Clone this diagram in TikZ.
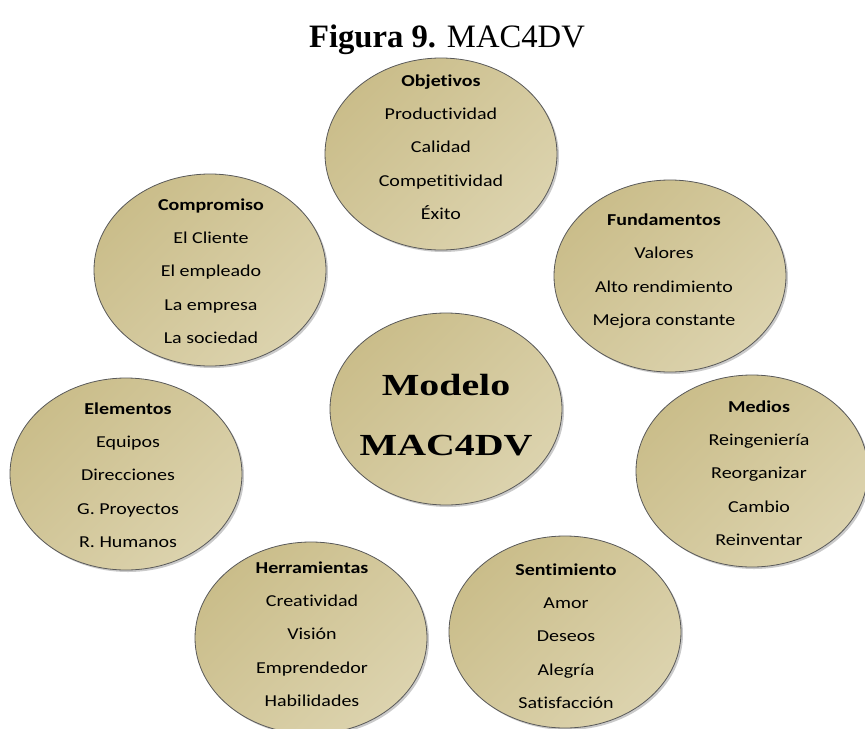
\documentclass[tikz,border=0pt]{standalone}
\usepackage{fontspec}
\setmainfont{Liberation Serif}
\newfontfamily\burfont[FakeStretch=1.2, Ligatures=NoCommon]{Carlito}
\newfontfamily\modfont[FakeStretch=1.3]{Liberation Serif}
\usetikzlibrary{shapes,shadows}
\definecolor{arena}{RGB}{202,189,138}
\definecolor{arenaclara}{RGB}{220,211,174}
\tikzstyle{burbuja} = [ellipse, draw=black!65, line width=0.6pt, top color=arena, bottom color=arenaclara, shading angle=45, minimum width=174pt, minimum height=144pt, drop shadow={shadow xshift=1.5pt, shadow yshift=-1.5pt, opacity=0.35, fill=black!60}]
\tikzstyle{lista} = [align=center, inner sep=0pt, font=\burfont\fontsize{12.5}{25}\selectfont]

\begin{document}
\begin{tikzpicture}[x=0.75pt, y=-0.75pt]

  % the picture is measured in pixels, y going down
  \useasboundingbox (0,0) rectangle (865,729);

  \node [anchor=base] (titulo) at (447,47) {\fontsize{24.5}{28}\selectfont\textbf{Figura 9.} MAC4DV};

  % the circles first
  \node [burbuja] (objetivos) at (441,154) {};
  \node [burbuja] (compromiso) at (210,270) {};
  \node [burbuja] (fundamentos) at (670,276) {};
  \node [burbuja] (modelo) at (446,409) {};
  \node [burbuja] (elementos) at (126,474) {};
  \node [burbuja] (medios) at (752,471) {};
  \node [burbuja] (herramientas) at (311,638) {};
  \node [burbuja] (sentimiento) at (565,632) {};

  % then the texts on them
  \node [align=center, font=\modfont\bfseries\fontsize{23}{45}\selectfont] (modelo-t) at (446,415) {Modelo\\MAC4DV};
  \node [lista] (objetivos-t) at (441,147) {\textbf{Objetivos}\\Productividad\\Calidad\\Competitividad\\Éxito};
  \node [lista] (compromiso-t) at (211,271) {\textbf{Compromiso}\\El Cliente\\El empleado\\La empresa\\La sociedad};
  \node [lista] (fundamentos-t) at (664,271) {\textbf{Fundamentos}\\Valores\\Alto rendimiento\\Mejora constante};
  \node [lista] (elementos-t) at (128,475) {\textbf{Elementos}\\Equipos\\Direcciones\\G. Proyectos\\R. Humanos};
  \node [lista] (medios-t) at (759,473) {\textbf{Medios}\\Reingeniería\\Reorganizar\\Cambio\\Reinventar};
  \node [lista] (herramientas-t) at (312,634) {\textbf{Herramientas}\\Creatividad\\Visión\\Emprendedor\\Habilidades};
  \node [lista] (sentimiento-t) at (566,636) {\textbf{Sentimiento}\\Amor\\Deseos\\Alegría\\Satisfacción};

\end{tikzpicture}
\end{document}
